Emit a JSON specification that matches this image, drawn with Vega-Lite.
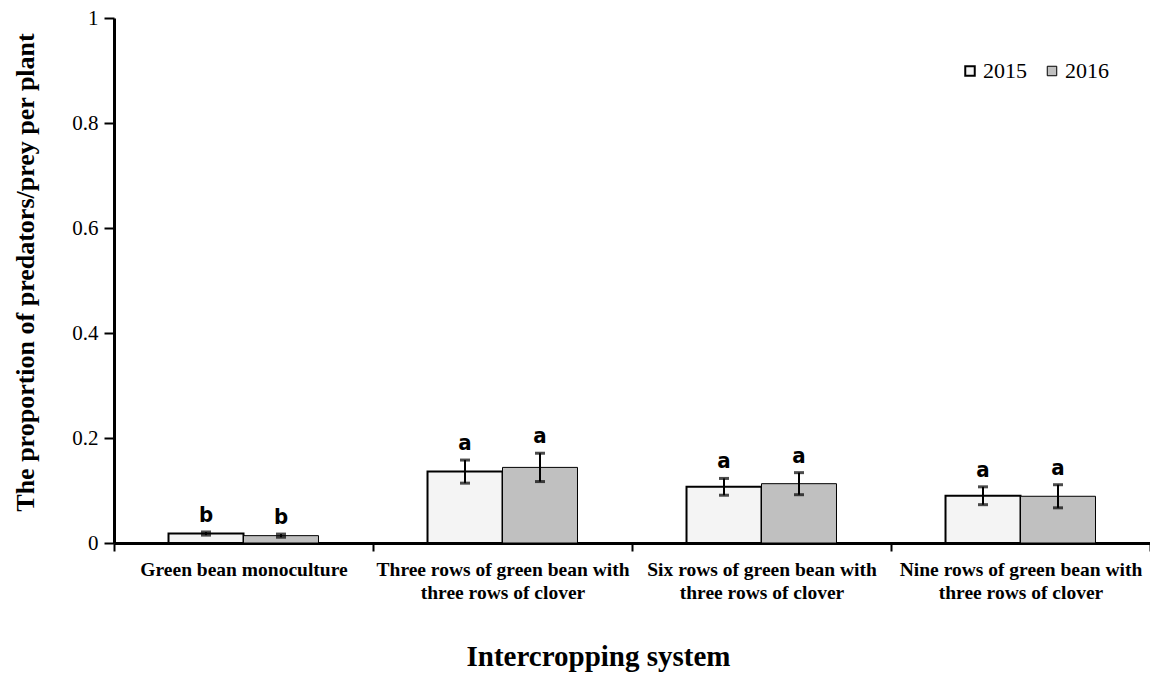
{
  "$schema": "https://vega.github.io/schema/vega-lite/v6.json",
  "width": 1036,
  "height": 525,
  "autosize": {"type": "none"},
  "padding": {"left": 114, "top": 18, "right": 0, "bottom": 130},
  "background": "white",
  "config": {
    "view": {"stroke": null},
    "font": "Liberation Serif"
  },
  "data": {
    "values": [
      {"system": "Green bean monoculture", "year": "2015", "value": 0.018, "lo": 0.015, "hi": 0.021, "letter": "b"},
      {"system": "Green bean monoculture", "year": "2016", "value": 0.014, "lo": 0.011, "hi": 0.017, "letter": "b"},
      {"system": "Three rows of green bean with|three rows of clover", "year": "2015", "value": 0.136, "lo": 0.114, "hi": 0.158, "letter": "a"},
      {"system": "Three rows of green bean with|three rows of clover", "year": "2016", "value": 0.144, "lo": 0.117, "hi": 0.171, "letter": "a"},
      {"system": "Six rows of green bean with|three rows of clover", "year": "2015", "value": 0.107, "lo": 0.091, "hi": 0.123, "letter": "a"},
      {"system": "Six rows of green bean with|three rows of clover", "year": "2016", "value": 0.113, "lo": 0.092, "hi": 0.134, "letter": "a"},
      {"system": "Nine rows of green bean with|three rows of clover", "year": "2015", "value": 0.090, "lo": 0.073, "hi": 0.107, "letter": "a"},
      {"system": "Nine rows of green bean with|three rows of clover", "year": "2016", "value": 0.089, "lo": 0.067, "hi": 0.111, "letter": "a"}
    ]
  },
  "encoding": {
    "x": {
      "field": "system",
      "type": "nominal",
      "sort": null,
      "scale": {"paddingInner": 0, "paddingOuter": 0},
      "axis": {
        "title": "Intercropping system",
        "titleFont": "Liberation Serif",
        "titleFontSize": 29,
        "titleFontWeight": "bold",
        "titleColor": "black",
        "titleX": 484,
        "titleY": 122,
        "titleBaseline": "alphabetic",
        "labelAngle": 0,
        "labelExpr": "split(datum.label, '|')",
        "labelFont": "Liberation Serif",
        "labelFontSize": 19.5,
        "labelFontWeight": "bold",
        "labelColor": "black",
        "labelLineHeight": 23,
        "labelPadding": 9,
        "labelLimit": 300,
        "tickBand": "extent",
        "tickSize": 8,
        "tickWidth": 2,
        "tickColor": "black",
        "domainColor": "black",
        "domainWidth": 3
      }
    },
    "xOffset": {
      "field": "year",
      "type": "nominal",
      "scale": {"paddingInner": 0, "paddingOuter": 0.727}
    }
  },
  "layer": [
    {
      "mark": {"type": "bar", "stroke": "black"},
      "encoding": {
        "y": {
          "field": "value",
          "type": "quantitative",
          "scale": {"domain": [0, 1], "nice": false},
          "axis": {
            "title": "The proportion of predators/prey per plant",
            "titleFont": "Liberation Serif",
            "titleFontSize": 26,
            "titleFontWeight": "bold",
            "titleColor": "black",
            "titleAngle": 270,
            "titleBaseline": "middle",
            "titleX": -89,
            "titleY": 254,
            "values": [0, 0.2, 0.4, 0.6, 0.8, 1],
            "format": "~g",
            "labelFont": "Liberation Serif",
            "labelFontSize": 21,
            "labelColor": "black",
            "labelPadding": 6,
            "tickSize": 10,
            "tickWidth": 2,
            "tickColor": "black",
            "domainColor": "black",
            "domainWidth": 3,
            "grid": false
          }
        },
        "fill": {
          "field": "year",
          "type": "nominal",
          "scale": {"domain": ["2015", "2016"], "range": ["#f4f4f4", "#c0c0c0"]},
          "legend": {
            "title": null,
            "orient": "none",
            "direction": "horizontal",
            "legendX": 845,
            "legendY": 42,
            "symbolType": "square",
            "symbolSize": 90,
            "symbolStrokeColor": "black",
            "symbolStrokeWidth": 1,
            "labelFont": "Liberation Serif",
            "labelFontSize": 22,
            "labelColor": "black",
            "labelOffset": 2,
            "columnPadding": 14
          }
        },
        "strokeWidth": {
          "field": "year",
          "type": "nominal",
          "scale": {"domain": ["2015", "2016"], "range": [2, 1]},
          "legend": null
        }
      }
    },
    {
      "mark": {"type": "rule", "stroke": "black", "strokeWidth": 2},
      "encoding": {
        "y": {"field": "lo", "type": "quantitative"},
        "y2": {"field": "hi"}
      }
    },
    {
      "mark": {"type": "tick", "color": "black", "size": 10, "thickness": 3, "orient": "horizontal"},
      "encoding": {"y": {"field": "lo", "type": "quantitative"}}
    },
    {
      "mark": {"type": "tick", "color": "black", "size": 10, "thickness": 3, "orient": "horizontal"},
      "encoding": {"y": {"field": "hi", "type": "quantitative"}}
    },
    {
      "mark": {"type": "text", "font": "Liberation Sans Narrow, DejaVu Sans Condensed, Liberation Sans", "fontSize": 22, "fontWeight": "bold", "baseline": "alphabetic", "dy": -10, "color": "black"},
      "encoding": {
        "y": {"field": "hi", "type": "quantitative"},
        "text": {"field": "letter"}
      }
    }
  ]
}
